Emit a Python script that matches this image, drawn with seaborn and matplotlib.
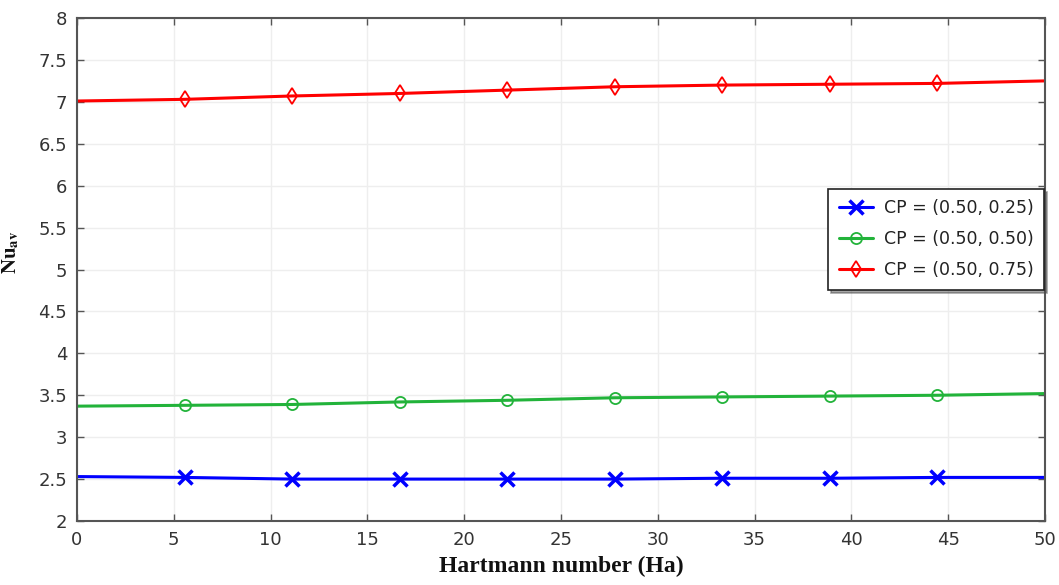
import matplotlib
matplotlib.use("Agg")
import matplotlib.pyplot as plt
import seaborn as sns
import pandas as pd

# Hartmann number sample points
ha = [0.0, 5.56, 11.11, 16.67, 22.22, 27.78, 33.33, 38.89, 44.44, 50.0]

# Average Nusselt number for each heater position
nu_025 = [2.53, 2.52, 2.50, 2.50, 2.50, 2.50, 2.51, 2.51, 2.52, 2.52]
nu_050 = [3.37, 3.38, 3.39, 3.42, 3.44, 3.47, 3.48, 3.49, 3.50, 3.52]
nu_075 = [7.01, 7.03, 7.07, 7.10, 7.14, 7.18, 7.20, 7.21, 7.22, 7.25]

labels = ["CP = (0.50, 0.25)", "CP = (0.50, 0.50)", "CP = (0.50, 0.75)"]
colors = ["#0000ff", "#22b33a", "#ff0000"]
markers = ["x", "o", "d"]
xticks = [0, 5, 10, 15, 20, 25, 30, 35, 40, 45, 50]
yticks = [2, 2.5, 3, 3.5, 4, 4.5, 5, 5.5, 6, 6.5, 7, 7.5, 8]

sns.set_theme(style="white")
plt.rcParams["mathtext.fontset"] = "stix"

fig = plt.figure(figsize=(10.59, 5.85), dpi=100)
ax = fig.add_axes([0.0727, 0.1094, 0.9141, 0.8598])

for series, lab, col, mk in zip([nu_025, nu_050, nu_075], labels, colors, markers):
    df = pd.DataFrame({"Ha": ha, "Nu": series})
    mkw = dict(markersize=10, markeredgewidth=2.5, markerfacecolor=col) if mk == "x" else \
          dict(markersize=8, markeredgewidth=1.3, markerfacecolor="none")
    sns.lineplot(data=df, x="Ha", y="Nu", ax=ax, color=col, linewidth=2.2,
                 marker=mk, markevery=list(range(1, 9)), markeredgecolor=col,
                 label=lab, **mkw)

ax.set_xlim(0, 50)
ax.set_ylim(2, 8)
ax.set_xticks(xticks)
ax.set_yticks(yticks)
ax.set_xticklabels([str(t) for t in xticks])
ax.set_yticklabels([("%g" % t) for t in yticks])
ax.grid(True, color="#eeeeee", linewidth=1.0)
ax.tick_params(direction="in", length=5, width=1, colors="#555555",
               labelcolor="#333333", labelsize=13, top=True, right=True,
               bottom=True, left=True, pad=7)
for s in ax.spines.values():
    s.set_color("#555555")
    s.set_linewidth(1.5)

ax.set_xlabel("Hartmann number (Ha)", fontfamily="Liberation Serif",
              fontweight="bold", fontsize=17, color="#111111", labelpad=5)
ax.set_ylabel(r"$\mathbf{Nu}_{\mathbf{av}}$", fontsize=15, color="#111111")
ax.yaxis.set_label_coords(-0.058, 0.535)

leg = ax.legend(loc="upper right", bbox_to_anchor=(0.999, 0.66), borderaxespad=0,
                fontsize=12.5, frameon=True, fancybox=False, shadow=True,
                borderpad=0.6, handlelength=2.0, handletextpad=0.6,
                labelspacing=0.75, edgecolor="#222222")
leg.get_frame().set_linewidth(1.2)
for t in leg.get_texts():
    t.set_color("#222222")

fig.savefig("out.png", dpi=100)
